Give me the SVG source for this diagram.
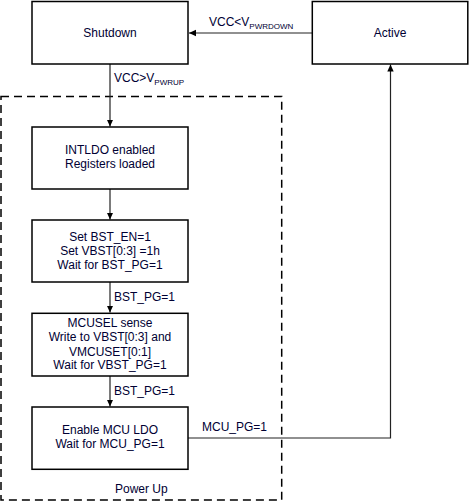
<svg xmlns="http://www.w3.org/2000/svg" width="470" height="503" viewBox="0 0 470 503">
<defs>
<marker id="arr" markerWidth="8" markerHeight="8" refX="7" refY="4" orient="auto" markerUnits="userSpaceOnUse">
<path d="M0,0.8 L7,4 L0,7.2 Z" fill="#000"/>
</marker>
<style>
.box{fill:#fff;stroke:#000;stroke-width:1.5}
.t{font-family:"Liberation Sans",Arial,sans-serif;font-size:12px;fill:#000033;text-anchor:middle}
.l{font-family:"Liberation Sans",Arial,sans-serif;font-size:12px;fill:#000033}
.sub{font-size:8px}
.c{fill:none;stroke:#222;stroke-width:1.2}
</style>
</defs>
<rect id="powerup" x="1" y="96.5" width="280.7" height="403.5" fill="none" stroke="#000" stroke-width="1.5" stroke-dasharray="8,5"/>
<g id="connectors">
<line class="c" x1="312" y1="33" x2="189" y2="33" marker-end="url(#arr)"/>
<line class="c" x1="110" y1="64" x2="110" y2="126.5" marker-end="url(#arr)"/>
<line class="c" x1="110" y1="189" x2="110" y2="219.5" marker-end="url(#arr)"/>
<line class="c" x1="110" y1="282" x2="110" y2="312.5" marker-end="url(#arr)"/>
<line class="c" x1="110" y1="376" x2="110" y2="406.5" marker-end="url(#arr)"/>
<polyline class="c" points="188,438 390.5,438 390.5,64.5" marker-end="url(#arr)"/>
<text class="l" x="209" y="26">VCC&lt;V<tspan class="sub" dy="2.5">PWRDOWN</tspan></text>
<text class="l" x="114" y="82">VCC&gt;V<tspan class="sub" dy="2.5">PWRUP</tspan></text>
<text class="l" x="114" y="301">BST_PG=1</text>
<text class="l" x="114" y="395">BST_PG=1</text>
<text class="l" x="202" y="431">MCU_PG=1</text>
</g>
<g id="shutdown"><rect class="box" x="32" y="1.5" width="156" height="62.5"/><text class="t" x="110" y="37">Shutdown</text></g>
<g id="active"><rect class="box" x="312.3" y="1.5" width="155.5" height="62.5"/><text class="t" x="390" y="37">Active</text></g>
<g id="intldo"><rect class="box" x="32" y="127" width="156" height="62"/><text class="t" x="110" y="154">INTLDO enabled</text><text class="t" x="110" y="168.3">Registers loaded</text></g>
<g id="setbst"><rect class="box" x="32" y="220" width="156" height="62"/><text class="t" x="110" y="240.7">Set BST_EN=1</text><text class="t" x="110" y="255">Set VBST[0:3] =1h</text><text class="t" x="110" y="269.3">Wait for BST_PG=1</text></g>
<g id="mcusel"><rect class="box" x="32" y="313.3" width="156" height="62.7"/><text class="t" x="110" y="326.7">MCUSEL sense</text><text class="t" x="110" y="340.7">Write to VBST[0:3] and</text><text class="t" x="110" y="355.5">VMCUSET[0:1]</text><text class="t" x="110" y="369.3">Wait for VBST_PG=1</text></g>
<g id="enable"><rect class="box" x="32" y="407" width="156" height="62.3"/><text class="t" x="110" y="434.3">Enable MCU LDO</text><text class="t" x="110" y="448.3">Wait for MCU_PG=1</text></g>
<text class="l" x="115" y="493">Power Up</text>
</svg>
